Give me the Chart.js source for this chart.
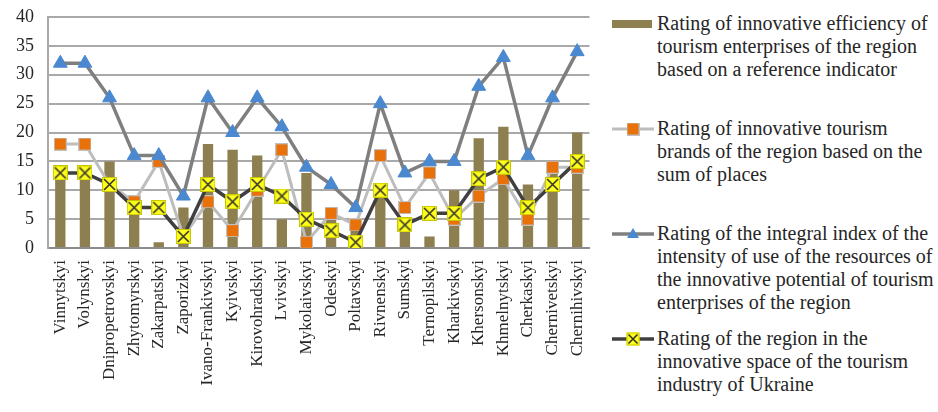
<!DOCTYPE html>
<html>
<head>
<meta charset="utf-8">
<script src="https://cdn.jsdelivr.net/npm/chart.js@4/dist/chart.umd.min.js"></script>
<style>
  html, body { margin: 0; padding: 0; background: #fff; }
  #wrap { position: relative; width: 938px; height: 412px; overflow: hidden; }
  #chartBox { position: absolute; left: 0; top: 0; width: 600px; height: 412px; }
  .leg { position: absolute; left: 612px; font-family: 'Liberation Serif', 'Times New Roman', Tinos, 'DejaVu Serif', serif; font-size: 20px; line-height: 23px; color: #262626; }
  .leg canvas { position: absolute; left: 0; top: 4px; }
  .leg div { position: absolute; left: 45px; top: 0; white-space: nowrap; }
</style>
</head>
<body>
<div id="wrap">
  <div id="chartBox"><canvas id="c"></canvas></div>
  <div class="leg" style="top:12px"><canvas id="l0" width="42" height="16"></canvas><div>Rating of innovative efficiency of<br>tourism enterprises of the region<br>based on a reference indicator</div></div>
  <div class="leg" style="top:117px"><canvas id="l1" width="42" height="16"></canvas><div>Rating of innovative tourism<br>brands of the region based on the<br>sum of places</div></div>
  <div class="leg" style="top:222px"><canvas id="l2" width="42" height="16"></canvas><div>Rating of the integral index of the<br>intensity of use of the resources of<br>the innovative potential of tourism<br>enterprises of the region</div></div>
  <div class="leg" style="top:327px"><canvas id="l3" width="42" height="16"></canvas><div>Rating of the region in the<br>innovative space of the tourism<br>industry of Ukraine</div></div>
</div>
<script>
const categories = ['Vinnytskyi','Volynskyi','Dnipropetrovskyi','Zhytomyrskyi','Zakarpatskyi','Zaporizkyi','Ivano-Frankivskyi','Kyivskyi','Kirovohradskyi','Lvivskyi','Mykolaivskyi','Odeskyi','Poltavskyi','Rivnenskyi','Sumskyi','Ternopilskyi','Kharkivskyi','Khersonskyi','Khmelnytskyi','Cherkaskyi','Chernivetskyi','Chernihivskyi'];
const efficiencyRating = [12,12,15,8,1,7,18,17,16,5,13,6,3,10,4,2,10,19,21,11,13,20];
const brandsRating     = [18,18,11,8,15,2,8,3,10,17,1,6,4,16,7,13,5,9,12,5,14,14];
const integralRating   = [32,32,26,16,16,9,26,20,26,21,14,11,7,25,13,15,15,28,33,16,26,34];
const regionRating     = [13,13,11,7,7,2,11,8,11,9,5,3,1,10,4,6,6,12,14,7,11,15];
const yTicks = [0,5,10,15,20,25,30,35,40];
const seriesNames = [
  'Rating of innovative efficiency of tourism enterprises of the region based on a reference indicator',
  'Rating of innovative tourism brands of the region based on the sum of places',
  'Rating of the integral index of the intensity of use of the resources of the innovative potential of tourism enterprises of the region',
  'Rating of the region in the innovative space of the tourism industry of Ukraine'
];

const SERIF = "'Liberation Serif', 'Times New Roman', Tinos, 'DejaVu Serif', serif";
const BAR = '#8D7F4F', ORANGE = '#E8710A', LGRAY = '#BDBDBD', MGRAY = '#7F7F7F', DGRAY = '#404040', BLUE = '#4A88CF', YEL = '#FFFF1A';

function drawYellowX(ctx, cx, cy, s) {
  ctx.fillStyle = YEL; ctx.strokeStyle = '#C8C800'; ctx.lineWidth = 1;
  ctx.fillRect(cx - s/2, cy - s/2, s, s); ctx.strokeRect(cx - s/2 + 0.5, cy - s/2 + 0.5, s - 1, s - 1);
  ctx.strokeStyle = '#333'; ctx.lineWidth = 1.6;
  const d = s/2 - 2;
  ctx.beginPath(); ctx.moveTo(cx - d, cy - d); ctx.lineTo(cx + d, cy + d); ctx.moveTo(cx + d, cy - d); ctx.lineTo(cx - d, cy + d); ctx.stroke();
}
function makeYellow(s) {
  const c = document.createElement('canvas'); c.width = s; c.height = s;
  drawYellowX(c.getContext('2d'), s/2, s/2, s); return c;
}
function makeOrange(s) {
  const c = document.createElement('canvas'); c.width = s; c.height = s;
  const ctx = c.getContext('2d');
  ctx.fillStyle = '#C0C0C0'; ctx.fillRect(0, 0, s, s);
  ctx.fillStyle = ORANGE; ctx.fillRect(1, 1, s - 2, s - 2); return c;
}
const yellowPt = makeYellow(15);
const orangePt = makeOrange(13);

const chart = new Chart(document.getElementById('c'), {
  data: {
    labels: categories,
    datasets: [
      { type: 'bar', label: seriesNames[0], data: efficiencyRating, backgroundColor: BAR, borderWidth: 0, barPercentage: 0.42, categoryPercentage: 1, order: 4 },
      { type: 'line', label: seriesNames[1], data: brandsRating, borderColor: LGRAY, borderWidth: 3, pointStyle: orangePt, pointRadius: 6, order: 3 },
      { type: 'line', label: seriesNames[2], data: integralRating, borderColor: MGRAY, borderWidth: 3.5, pointStyle: 'triangle', pointRadius: 8, pointBackgroundColor: BLUE, pointBorderColor: BLUE, pointBorderWidth: 1, order: 2 },
      { type: 'line', label: seriesNames[3], data: regionRating, borderColor: DGRAY, borderWidth: 3.5, pointStyle: yellowPt, pointRadius: 7, order: 1 }
    ]
  },
  options: {
    responsive: true, maintainAspectRatio: false, animation: false,
    layout: { padding: { top: 17, right: 5, left: 0, bottom: 0 } },
    plugins: { legend: { display: false }, tooltip: { enabled: false } },
    scales: {
      x: {
        grid: { display: false },
        border: { color: '#8C8C8C', width: 2 },
        ticks: { color: '#262626', font: { family: SERIF, size: 17 }, minRotation: 90, maxRotation: 90, autoSkip: false, padding: 4 },
        afterFit: s => { s.height = 164; s.paddingLeft = 0; s.paddingRight = 0; }
      },
      y: {
        min: 0, max: 40,
        afterBuildTicks: s => { s.ticks = yTicks.map(v => ({ value: v })); },
        grid: { color: '#A9A9A9', lineWidth: 2, drawTicks: false },
        border: { color: '#A9A9A9', width: 2 },
        ticks: { color: '#262626', font: { family: SERIF, size: 18 }, padding: 14 },
        afterFit: s => { s.width = 48; s.paddingTop = 0; s.paddingBottom = 0; }
      }
    }
  }
});

// legend icons
(function () {
  let ctx = document.getElementById('l0').getContext('2d');
  ctx.fillStyle = BAR; ctx.fillRect(0, 4, 40, 8);
  ctx = document.getElementById('l1').getContext('2d');
  ctx.strokeStyle = LGRAY; ctx.lineWidth = 3; ctx.beginPath(); ctx.moveTo(0, 8); ctx.lineTo(42, 8); ctx.stroke();
  ctx.drawImage(orangePt, 21 - 6.5, 8 - 6.5);
  ctx = document.getElementById('l2').getContext('2d');
  ctx.strokeStyle = MGRAY; ctx.lineWidth = 3.5; ctx.beginPath(); ctx.moveTo(0, 8); ctx.lineTo(42, 8); ctx.stroke();
  ctx.fillStyle = BLUE; ctx.beginPath(); ctx.moveTo(21, 2); ctx.lineTo(27, 12); ctx.lineTo(15, 12); ctx.closePath(); ctx.fill();
  ctx = document.getElementById('l3').getContext('2d');
  ctx.strokeStyle = DGRAY; ctx.lineWidth = 3.5; ctx.beginPath(); ctx.moveTo(0, 8); ctx.lineTo(42, 8); ctx.stroke();
  drawYellowX(ctx, 21, 8, 13);
})();
</script>
</body>
</html>
